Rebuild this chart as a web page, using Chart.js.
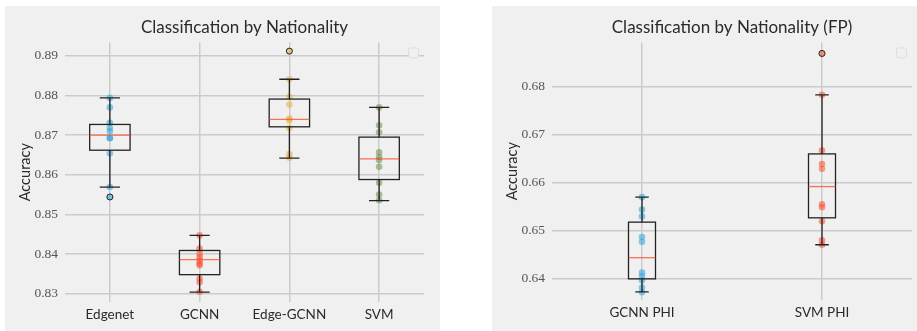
<!DOCTYPE html>
<html>
<head>
<meta charset="utf-8">
<script src="https://cdn.jsdelivr.net/npm/chart.js@4.4.1/dist/chart.umd.min.js"></script>
<style>
  body { margin: 0; background: #fff; width: 917px; height: 331px; position: relative; overflow: hidden; }
  .panel { position: absolute; background: #f0f0f0; }
  #leftPanel { left: 5px; top: 6px; width: 435px; height: 325px; }
  #rightPanel { left: 492px; top: 6px; width: 425px; height: 325px; }
</style>
</head>
<body>
<div class="panel" id="leftPanel"><canvas id="leftChart"></canvas></div>
<div class="panel" id="rightPanel"><canvas id="rightChart"></canvas></div>
<script>
// ---- left chart data ----
const leftCategories = ['Edgenet', 'GCNN', 'Edge-GCNN', 'SVM'];
const leftTicks = [0.83, 0.84, 0.85, 0.86, 0.87, 0.88, 0.89];
const edgenetAcc = [0.8794, 0.8770, 0.8731, 0.8718, 0.8710, 0.8693, 0.8692, 0.8654, 0.8569, 0.8544];
const gcnnAcc = [0.8447, 0.8414, 0.8401, 0.8392, 0.8384, 0.8376, 0.8372, 0.8338, 0.8329, 0.8305];
const edgeGcnnAcc = [0.8912, 0.8841, 0.8797, 0.8777, 0.8742, 0.8737, 0.8718, 0.8652, 0.8643];
const svmAcc = [0.8770, 0.8725, 0.8707, 0.8657, 0.8645, 0.8637, 0.8620, 0.8580, 0.8550, 0.8536];
const leftQ1 = [0.8662, 0.8348, 0.8721, 0.8588];
const leftMedian = [0.8700, 0.8386, 0.8740, 0.8640];
const leftQ3 = [0.8727, 0.8409, 0.8791, 0.8695];
const leftWhiskerLow = [0.8569, 0.8304, 0.8642, 0.8535];
const leftWhiskerHigh = [0.8794, 0.8447, 0.8841, 0.8770];
const leftFliers = [[0.8544], [], [0.8912], []];

// ---- right chart data ----
const rightCategories = ['GCNN PHI', 'SVM PHI'];
const rightTicks = [0.64, 0.65, 0.66, 0.67, 0.68];
const gcnnPhiAcc = [0.6570, 0.6544, 0.6530, 0.6487, 0.6477, 0.6413, 0.6406, 0.6397, 0.6382, 0.6372];
const svmPhiAcc = [0.6869, 0.6783, 0.6667, 0.6639, 0.6629, 0.6555, 0.6549, 0.6520, 0.6480, 0.6471];
const rightQ1 = [0.6400, 0.6527];
const rightMedian = [0.6444, 0.6592];
const rightQ3 = [0.6518, 0.6660];
const rightWhiskerLow = [0.6373, 0.6471];
const rightWhiskerHigh = [0.6570, 0.6783];
const rightFliers = [[], [0.6869]];

const BLUE = '#30a2da', RED = '#fc4f30', YELLOW = '#e5ae38', GREEN = '#6d904f';
const GRID = '#cbcbcb';
const SERIF = "'Liberation Serif', 'DejaVu Serif', serif";

function withAlpha(hex, a) {
    const n = parseInt(hex.slice(1), 16);
    return `rgba(${(n >> 16) & 255}, ${(n >> 8) & 255}, ${n & 255}, ${a})`;
}

// draws box, whiskers, caps, median, fliers and the empty legend frame
function boxPlugin(stats) {
    return {
        id: 'boxes',
        afterDatasetsDraw(chart) {
            const { ctx, chartArea, scales: { x, y } } = chart;
            ctx.save();
            for (let i = 0; i < stats.q1.length; i++) {
                const pos = i + 1;
                const cx = x.getPixelForValue(pos);
                const hw = x.getPixelForValue(pos + stats.width / 2) - cx;
                const capW = hw / 2;
                const yq1 = y.getPixelForValue(stats.q1[i]);
                const yq3 = y.getPixelForValue(stats.q3[i]);
                const ymed = y.getPixelForValue(stats.median[i]);
                const ylo = y.getPixelForValue(stats.lo[i]);
                const yhi = y.getPixelForValue(stats.hi[i]);

                ctx.strokeStyle = '#222';
                ctx.lineWidth = 1.3;
                ctx.strokeRect(cx - hw, yq3, hw * 2, yq1 - yq3);

                ctx.beginPath();
                ctx.moveTo(cx, yq1); ctx.lineTo(cx, ylo);
                ctx.moveTo(cx, yq3); ctx.lineTo(cx, yhi);
                ctx.moveTo(cx - capW, ylo); ctx.lineTo(cx + capW, ylo);
                ctx.moveTo(cx - capW, yhi); ctx.lineTo(cx + capW, yhi);
                ctx.stroke();

                ctx.strokeStyle = withAlpha(RED, 0.8);
                ctx.lineWidth = 1.3;
                ctx.beginPath();
                ctx.moveTo(cx - hw, ymed); ctx.lineTo(cx + hw, ymed);
                ctx.stroke();

                ctx.strokeStyle = '#222';
                ctx.lineWidth = 1;
                stats.fliers[i].forEach(v => {
                    ctx.beginPath();
                    ctx.arc(cx, y.getPixelForValue(v), 3, 0, Math.PI * 2);
                    ctx.stroke();
                });
            }
            // empty legend frame
            ctx.strokeStyle = '#dcdcdc';
            ctx.fillStyle = '#f0f0f0';
            ctx.lineWidth = 1;
            ctx.beginPath();
            ctx.roundRect(chartArea.right - 15.5, chartArea.top + 5.5, 10, 10, 2);
            ctx.fill();
            ctx.stroke();
            ctx.restore();
        }
    };
}

function renderBoxChart(canvasId, cfg) {
    const ctx = document.getElementById(canvasId).getContext('2d');
    const datasets = cfg.series.map((vals, i) => ({
        data: vals.map(v => ({ x: i + 1, y: v })),
        backgroundColor: withAlpha(cfg.colors[i], 0.55),
        borderWidth: 0,
        pointRadius: 3.3
    }));
    new Chart(ctx, {
        type: 'scatter',
        data: { datasets },
        options: {
            responsive: true,
            maintainAspectRatio: false,
            animation: false,
            layout: { padding: { top: 0, right: cfg.rightPad, bottom: 0, left: 0 } },
            plugins: {
                legend: { display: false },
                tooltip: { enabled: false },
                title: {
                    display: true,
                    text: cfg.title,
                    fullSize: false,
                    color: '#2a2a2a',
                    font: { family: 'Lato', size: 17, weight: 'normal' },
                    padding: { top: 11, bottom: 5 }
                }
            },
            scales: {
                x: {
                    type: 'linear',
                    min: 0.5,
                    max: cfg.categories.length + 0.5,
                    afterBuildTicks: s => { s.ticks = cfg.categories.map((c, i) => ({ value: i + 1 })); },
                    afterFit: s => { s.height = cfg.xHeight; },
                    ticks: {
                        callback: (v, i) => cfg.categories[i],
                        color: '#2a2a2a',
                        padding: 5,
                        maxRotation: 0,
                        font: { family: 'Lato', size: 13.5 }
                    },
                    grid: { color: GRID, lineWidth: 1.5, drawTicks: false },
                    border: { display: false }
                },
                y: {
                    min: cfg.yMin,
                    max: cfg.yMax,
                    afterBuildTicks: s => { s.ticks = cfg.ticks.map(v => ({ value: v })); },
                    afterFit: s => { s.width = 60; },
                    ticks: {
                        callback: v => v.toFixed(2),
                        color: '#555',
                        padding: 7,
                        font: { family: SERIF, size: 13.5 }
                    },
                    grid: { color: GRID, lineWidth: 1.5, drawTicks: false },
                    border: { display: false },
                    title: {
                        display: true,
                        text: 'Accuracy',
                        color: '#2a2a2a',
                        font: { family: 'Lato', size: 14.5 },
                        padding: { top: 12, bottom: 0 }
                    }
                }
            }
        },
        plugins: [boxPlugin(cfg.stats)]
    });
}

document.addEventListener('DOMContentLoaded', () => {
    renderBoxChart('leftChart', {
        title: 'Classification by Nationality',
        categories: leftCategories,
        ticks: leftTicks,
        series: [edgenetAcc, gcnnAcc, edgeGcnnAcc, svmAcc],
        colors: [BLUE, RED, YELLOW, GREEN],
        yMin: 0.8279,
        yMax: 0.8934,
        rightPad: 16,
        xHeight: 29,
        stats: { q1: leftQ1, median: leftMedian, q3: leftQ3, lo: leftWhiskerLow, hi: leftWhiskerHigh, fliers: leftFliers, width: 0.45 }
    });
    renderBoxChart('rightChart', {
        title: 'Classification by Nationality (FP)',
        categories: rightCategories,
        ticks: rightTicks,
        series: [gcnnPhiAcc, svmPhiAcc],
        colors: [BLUE, RED],
        yMin: 0.6356,
        yMax: 0.6892,
        rightPad: 5,
        xHeight: 31,
        stats: { q1: rightQ1, median: rightMedian, q3: rightQ3, lo: rightWhiskerLow, hi: rightWhiskerHigh, fliers: rightFliers, width: 0.15 }
    });
});
</script>
</body>
</html>
